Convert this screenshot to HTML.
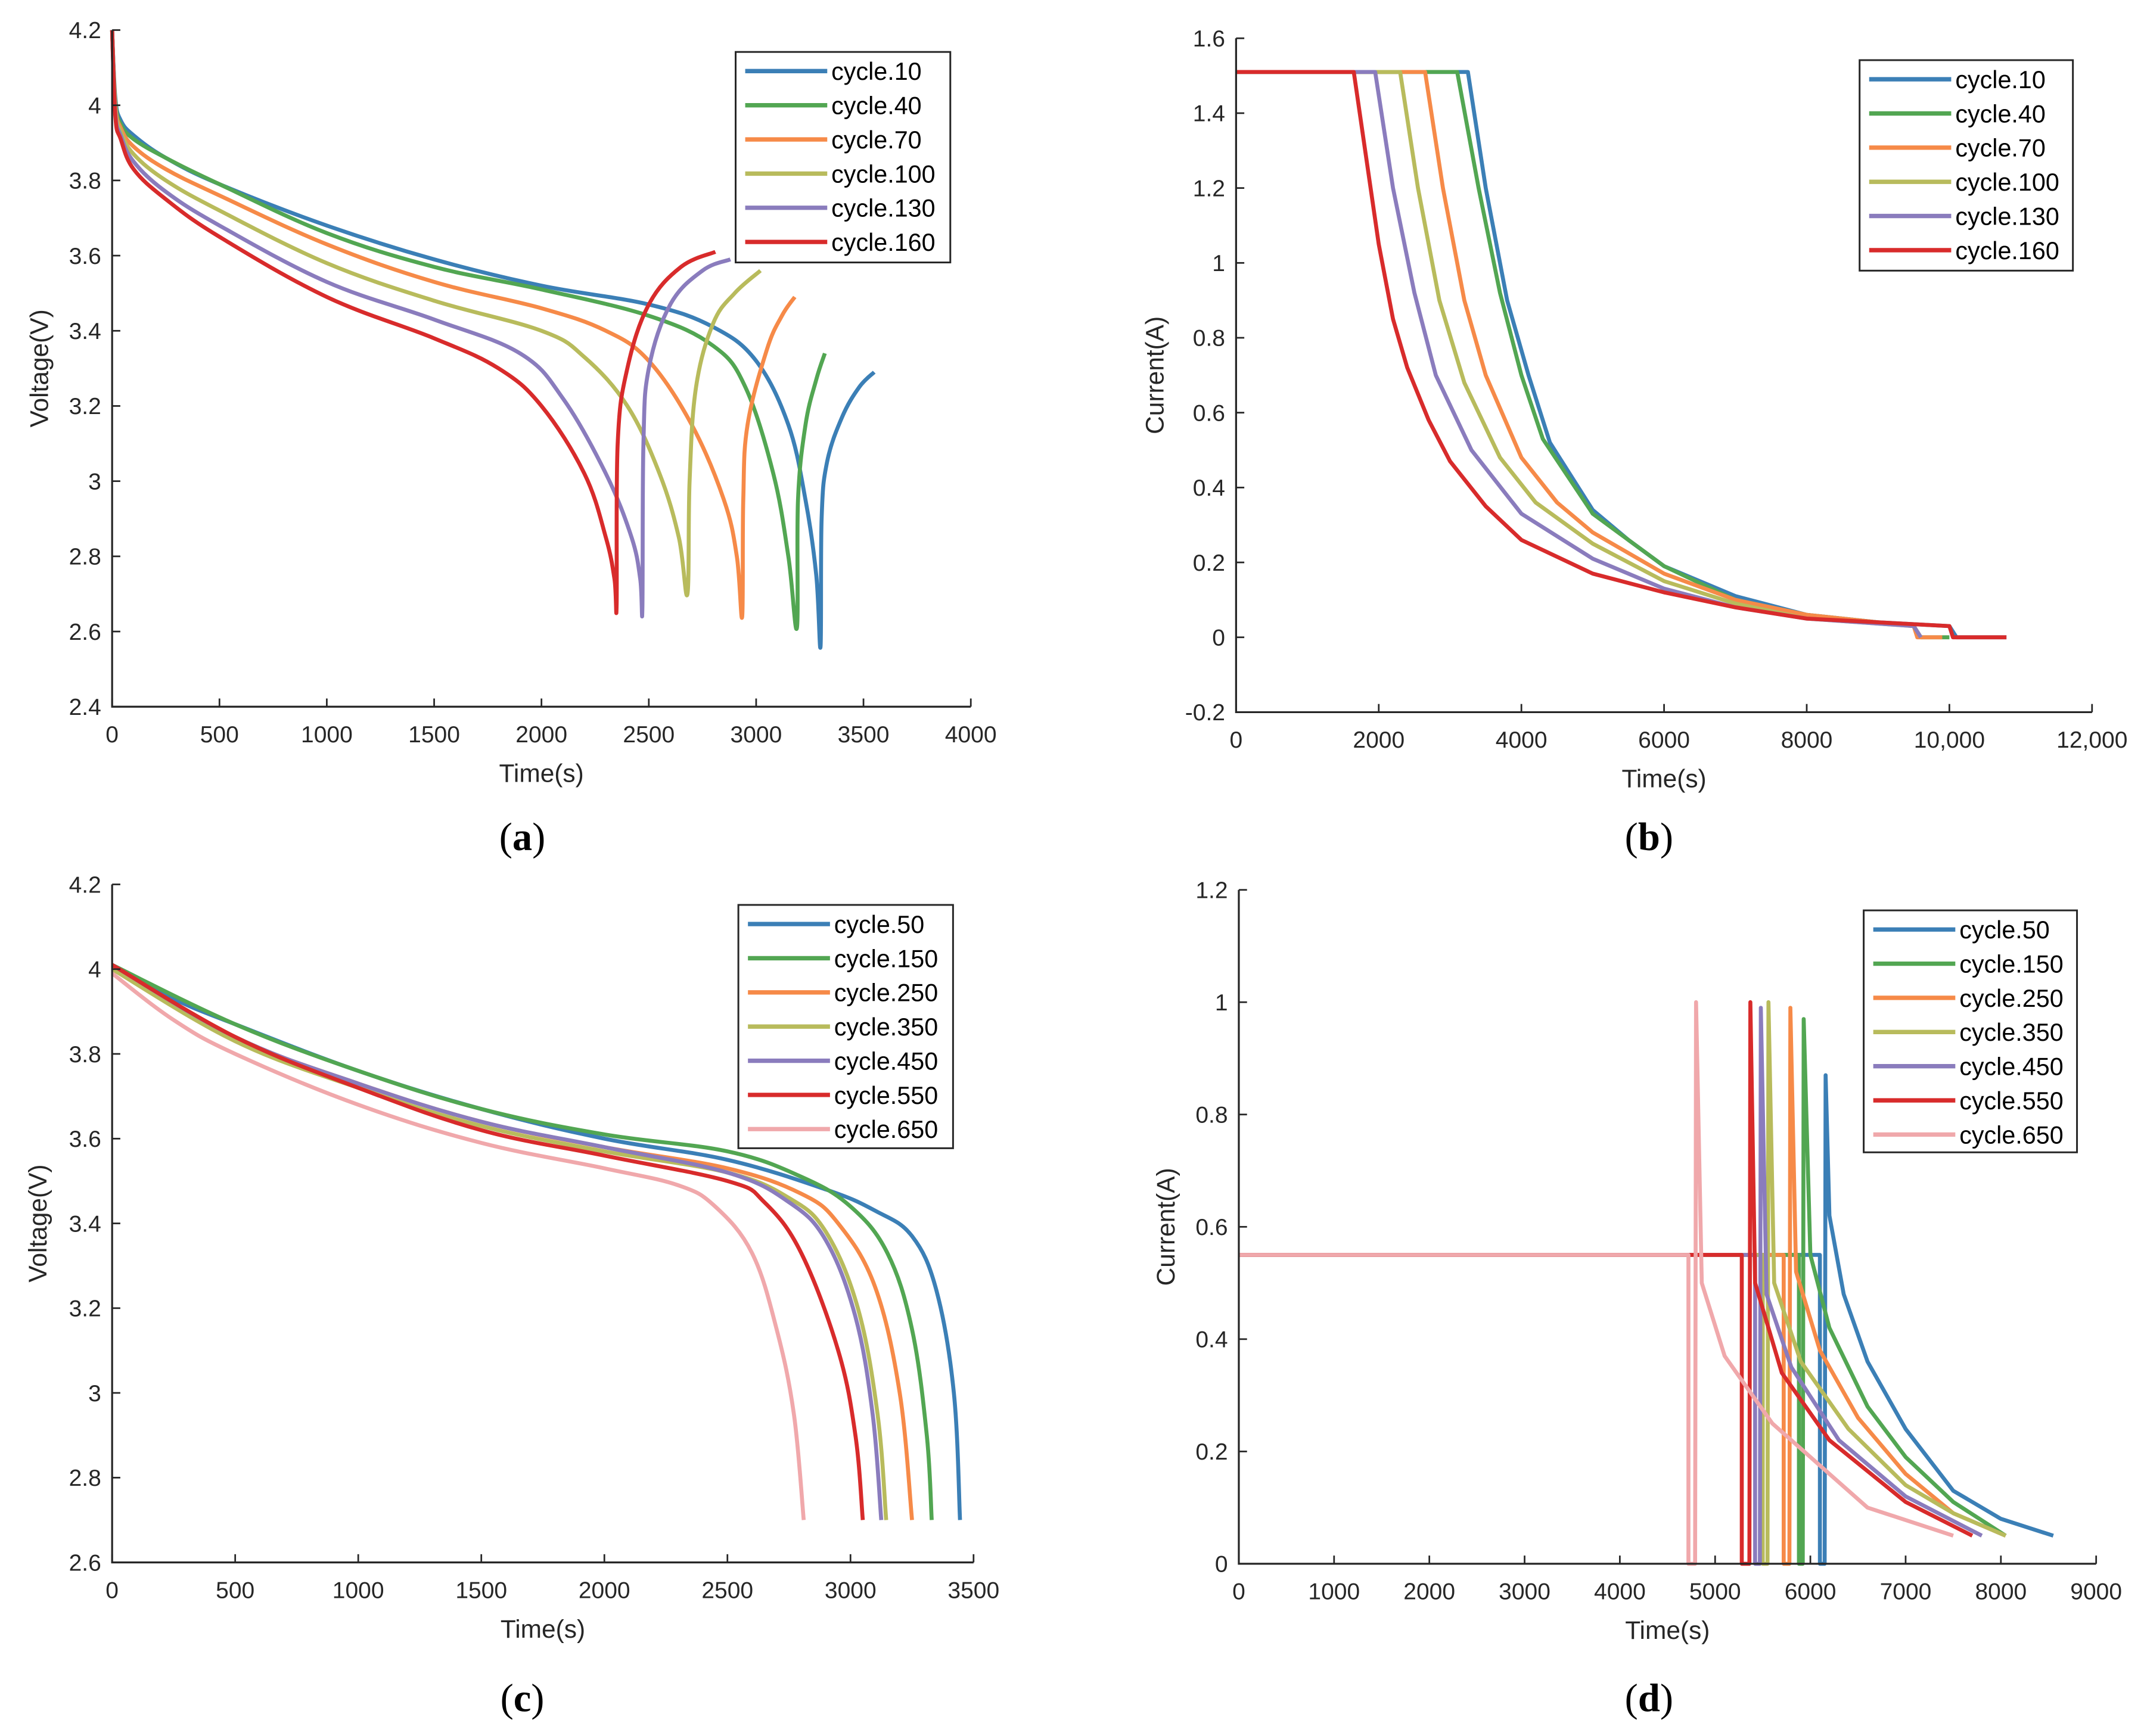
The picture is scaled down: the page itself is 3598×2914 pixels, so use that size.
<!DOCTYPE html>
<html><head><meta charset="utf-8">
<style>
html,body{margin:0;padding:0;background:#fff;}
svg{display:block;}
text{font-family:"Liberation Sans",Arial,sans-serif;fill:#262626;}
</style></head>
<body>
<svg id="fig" width="3598" height="2914" viewBox="0 0 1568 1270" preserveAspectRatio="none" xmlns="http://www.w3.org/2000/svg">
<rect width="1568" height="1270" fill="#fff"/>
</svg>
<script>
// ---- Panel (a) data: discharge voltage ----
const aNames = ["cycle.10","cycle.40","cycle.70","cycle.100","cycle.130","cycle.160"];
const aTimes = [
 [0,15,40,100,250,500,1000,1500,2000,2500,2800,3000,3150,3230,3280,3300,3305,3330,3400,3480,3550],
 [0,15,40,100,250,500,1000,1500,2000,2500,2800,2950,3080,3150,3190,3195,3230,3280,3320],
 [0,15,40,100,250,500,1000,1500,2000,2300,2500,2700,2850,2910,2935,2940,2960,3050,3120,3180],
 [0,15,40,100,250,500,1000,1500,2000,2200,2400,2550,2640,2680,2690,2720,2800,2900,3020],
 [0,15,40,100,250,500,1000,1500,1900,2100,2300,2420,2460,2470,2475,2500,2600,2750,2880],
 [0,15,40,100,250,500,1000,1500,1800,2000,2200,2300,2340,2350,2355,2400,2500,2650,2810]
];
const aVolts = [
 [4.2,4.02,3.96,3.92,3.86,3.79,3.68,3.59,3.52,3.47,3.41,3.32,3.15,2.95,2.75,2.56,2.9,3.05,3.17,3.25,3.29],
 [4.2,4.01,3.95,3.91,3.86,3.79,3.66,3.57,3.51,3.44,3.36,3.25,3.02,2.8,2.61,2.95,3.15,3.27,3.34],
 [4.2,4.0,3.94,3.89,3.83,3.76,3.63,3.53,3.46,3.40,3.32,3.15,2.95,2.8,2.64,2.95,3.15,3.35,3.44,3.49],
 [4.2,3.99,3.93,3.87,3.80,3.72,3.58,3.48,3.40,3.33,3.20,3.02,2.85,2.70,3.0,3.25,3.42,3.5,3.56],
 [4.2,3.98,3.92,3.85,3.77,3.68,3.53,3.43,3.34,3.22,3.02,2.85,2.74,2.66,3.1,3.3,3.47,3.56,3.59],
 [4.2,3.97,3.91,3.83,3.75,3.65,3.49,3.38,3.30,3.20,3.02,2.85,2.74,2.67,3.1,3.3,3.47,3.57,3.61]
];
const aXTicks = [0,500,1000,1500,2000,2500,3000,3500,4000];
const aXLabels = ["0","500","1000","1500","2000","2500","3000","3500","4000"];
const aYTicks = [2.4,2.6,2.8,3,3.2,3.4,3.6,3.8,4,4.2];
const aYLabels = ["2.4","2.6","2.8","3","3.2","3.4","3.6","3.8","4","4.2"];

// ---- Panel (b) data: charge current ----
const bNames = ["cycle.10","cycle.40","cycle.70","cycle.100","cycle.130","cycle.160"];
const bTimes = [
 [0,3250,3500,3800,4100,4400,5000,5500,6000,7000,8000,9000,10000,10100,10800],
 [0,3100,3400,3700,4000,4300,5000,6000,7000,8000,9500,9600,10000],
 [0,2650,2900,3200,3500,4000,4500,5000,6000,7000,8000,9500,9550,9900],
 [0,2300,2550,2850,3200,3700,4200,5000,6000,7000,8000,9500,9600],
 [0,1950,2200,2500,2800,3300,4000,5000,6000,7000,8000,9500,9600],
 [0,1650,2000,2200,2400,2700,3000,3500,4000,5000,6000,7000,8000,9000,10000,10050,10800]
];
const bCurr = [
 [1.51,1.51,1.2,0.9,0.7,0.52,0.34,0.26,0.19,0.11,0.06,0.04,0.03,0,0],
 [1.51,1.51,1.2,0.92,0.7,0.53,0.33,0.19,0.1,0.06,0.03,0,0],
 [1.51,1.51,1.2,0.9,0.7,0.48,0.36,0.28,0.17,0.1,0.06,0.03,0,0],
 [1.51,1.51,1.2,0.9,0.68,0.48,0.36,0.25,0.15,0.09,0.05,0.03,0],
 [1.51,1.51,1.2,0.92,0.7,0.5,0.33,0.21,0.13,0.08,0.05,0.03,0],
 [1.51,1.51,1.05,0.85,0.72,0.58,0.47,0.35,0.26,0.17,0.12,0.08,0.05,0.04,0.03,0,0]
];
const bXTicks = [0,2000,4000,6000,8000,10000,12000];
const bXLabels = ["0","2000","4000","6000","8000","10,000","12,000"];
const bYTicks = [-0.2,0,0.2,0.4,0.6,0.8,1,1.2,1.4,1.6];
const bYLabels = ["-0.2","0","0.2","0.4","0.6","0.8","1","1.2","1.4","1.6"];

// ---- Panel (c) data ----
const cNames = ["cycle.50","cycle.150","cycle.250","cycle.350","cycle.450","cycle.550","cycle.650"];
const cTimes = [
 [0,250,500,1000,1500,2000,2500,2900,3100,3250,3350,3420,3445],
 [0,500,1000,1500,2000,2500,2800,3000,3150,3250,3310,3330],
 [0,500,1000,1500,2000,2500,2800,2950,3100,3200,3250],
 [0,500,1000,1500,2000,2500,2750,2900,3030,3110,3145],
 [0,500,1000,1500,2000,2500,2750,2900,3020,3090,3125],
 [0,500,1000,1500,2000,2500,2650,2800,2950,3020,3050],
 [0,250,500,1000,1500,2000,2300,2450,2600,2700,2770,2810]
];
const cVolts = [
 [4.01,3.93,3.87,3.76,3.67,3.60,3.55,3.48,3.43,3.37,3.24,3.0,2.7],
 [4.01,3.87,3.76,3.67,3.61,3.57,3.51,3.44,3.33,3.15,2.9,2.7],
 [4.01,3.84,3.73,3.64,3.58,3.53,3.47,3.40,3.25,3.0,2.7],
 [4.0,3.83,3.72,3.63,3.57,3.52,3.46,3.38,3.2,2.95,2.7],
 [4.01,3.84,3.73,3.64,3.58,3.52,3.45,3.36,3.18,2.95,2.7],
 [4.01,3.84,3.72,3.62,3.56,3.50,3.45,3.33,3.1,2.9,2.7],
 [3.99,3.88,3.80,3.68,3.59,3.53,3.49,3.44,3.33,3.15,2.95,2.7]
];
const cXTicks = [0,500,1000,1500,2000,2500,3000,3500];
const cXLabels = ["0","500","1000","1500","2000","2500","3000","3500"];
const cYTicks = [2.6,2.8,3,3.2,3.4,3.6,3.8,4,4.2];
const cYLabels = ["2.6","2.8","3","3.2","3.4","3.6","3.8","4","4.2"];

// ---- Panel (d) data ----
const dNames = ["cycle.50","cycle.150","cycle.250","cycle.350","cycle.450","cycle.550","cycle.650"];
const dTimes = [
 [0,6100,6100,6150,6160,6200,6350,6600,7000,7500,8000,8550],
 [0,5880,5880,5920,5930,6000,6200,6600,7000,7500,8050],
 [0,5720,5720,5780,5790,5850,6100,6500,7000,7500,8050],
 [0,5500,5500,5550,5560,5620,5900,6400,7000,7500,8050],
 [0,5420,5420,5470,5480,5540,5800,6300,7000,7800],
 [0,5280,5280,5360,5370,5420,5700,6200,7000,7700],
 [0,4720,4720,4790,4800,4860,5100,5600,6000,6600,7500]
];
const dCurr = [
 [0.55,0.55,0,0,0.87,0.62,0.48,0.36,0.24,0.13,0.08,0.05],
 [0.55,0.55,0,0,0.97,0.55,0.42,0.28,0.19,0.11,0.05],
 [0.55,0.55,0,0,0.99,0.52,0.38,0.26,0.16,0.09,0.05],
 [0.55,0.55,0,0,1.0,0.5,0.36,0.24,0.14,0.09,0.05],
 [0.55,0.55,0,0,0.99,0.48,0.35,0.22,0.12,0.05],
 [0.55,0.55,0,0,1.0,0.5,0.34,0.22,0.11,0.05],
 [0.55,0.55,0,0,1.0,0.5,0.37,0.25,0.19,0.1,0.05]
];
const dXTicks = [0,1000,2000,3000,4000,5000,6000,7000,8000,9000];
const dXLabels = ["0","1000","2000","3000","4000","5000","6000","7000","8000","9000"];
const dYTicks = [0,0.2,0.4,0.6,0.8,1,1.2];
const dYLabels = ["0","0.2","0.4","0.6","0.8","1","1.2"];

const COLORS6 = ["#3b7fb6","#52a652","#f68a48","#b8bb5c","#8a7cbd","#d82b2b"];
const COLORS7 = ["#3b7fb6","#52a652","#f68a48","#b8bb5c","#8a7cbd","#d82b2b","#f0a8ab"];

const NS = "http://www.w3.org/2000/svg";
const fig = document.getElementById("fig");
function mk(tag, attrs, parent){ const e=document.createElementNS(NS,tag); for(const k in attrs) e.setAttribute(k,attrs[k]); (parent||fig).appendChild(e); return e; }

function pathFrom(pts, smooth){
  if(!smooth) return pts.map((p,j)=>(j?"L":"M")+p[0].toFixed(2)+" "+p[1].toFixed(2)).join(" ");
  let d="M"+pts[0][0].toFixed(2)+" "+pts[0][1].toFixed(2);
  for(let i=0;i<pts.length-1;i++){
    const p0=pts[i-1]||pts[i], p1=pts[i], p2=pts[i+1], p3=pts[i+2]||p2;
    const k=0.18;
    const c1=[p1[0]+(p2[0]-p0[0])*k, p1[1]+(p2[1]-p0[1])*k];
    const c2=[p2[0]-(p3[0]-p1[0])*k, p2[1]-(p3[1]-p1[1])*k];
    d+=` C${c1[0].toFixed(2)} ${c1[1].toFixed(2)} ${c2[0].toFixed(2)} ${c2[1].toFixed(2)} ${p2[0].toFixed(2)} ${p2[1].toFixed(2)}`;
  }
  return d;
}

function panel(cfg){
  const g = mk("g",{});
  
  
  const sx = v => cfg.x0 + (v-cfg.xmin)/(cfg.xmax-cfg.xmin)*(cfg.x1-cfg.x0);
  const sy = v => cfg.y0 - (v-cfg.ymin)/(cfg.ymax-cfg.ymin)*(cfg.y0-cfg.y1);
  cfg.times.forEach((ts,i)=>{
    const pts = ts.map((t,j)=>[sx(t),sy(cfg.vals[i][j])]);
    const p = mk("path",{d:pathFrom(pts,cfg.smooth),fill:"none",stroke:cfg.colors[i],"stroke-width":2.9,"stroke-linejoin":"round"},g);
    
    
  });
  const ax = mk("path",{d:`M${cfg.x0} ${cfg.y1} L${cfg.x0} ${cfg.y0} L${cfg.x1} ${cfg.y0}`,fill:"none",stroke:"#262626","stroke-width":1.4},g);
  
  
  cfg.xt.forEach((v,i)=>{
    const x=sx(v);
    mk("line",{x1:x,y1:cfg.y0,x2:x,y2:cfg.y0-6,stroke:"#262626","stroke-width":1.2},g);
    const t=mk("text",{x:x,y:cfg.y0+26,"text-anchor":"middle","font-size":17},g);
    t.textContent=cfg.xl[i];
    
    
  });
  cfg.yt.forEach((v,i)=>{
    const y=sy(v);
    mk("line",{x1:cfg.x0,y1:y,x2:cfg.x0+6,y2:y,stroke:"#262626","stroke-width":1.2},g);
    const t=mk("text",{x:cfg.x0-8,y:y+6,"text-anchor":"end","font-size":17},g);
    t.textContent=cfg.yl[i];
    
    
  });
  const xl=mk("text",{x:(cfg.x0+cfg.x1)/2,y:cfg.y0+55,"text-anchor":"middle","font-size":18.5},g);
  xl.textContent="Time(s)";
  
  
  const ymid=(cfg.y0+cfg.y1)/2;
  const yl=mk("text",{x:cfg.ylx,y:ymid,"text-anchor":"middle","font-size":18.5,transform:`rotate(-90 ${cfg.ylx} ${ymid})`},g);
  yl.textContent=cfg.ytitle;
  
  
  const L=cfg.leg;
  const lg=mk("g",{},g);
  
  
  mk("rect",{x:L.x,y:L.y,width:L.w,height:L.h,fill:"#fff",stroke:"#262626","stroke-width":1.3},lg);
  cfg.names.forEach((n,i)=>{
    const yy=L.y+14+i*25;
    mk("line",{x1:L.x+7,y1:yy,x2:L.x+67,y2:yy,stroke:cfg.colors[i],"stroke-width":3.2},lg);
    const t=mk("text",{x:L.x+70,y:yy+6.5,"font-size":18},lg);
    t.style.fill="#000";
    t.textContent=n;
    
    
  });
  const pl=mk("text",{x:cfg.lx,y:cfg.ly,"text-anchor":"middle","font-size":29},g);
  pl.style.fontFamily='"Liberation Serif",serif';
  pl.style.fill="#000";
  pl.innerHTML='(<tspan font-weight="bold">'+cfg.label+'</tspan>)';
  
  
}

panel({id:"panel-a",x0:82,x1:710,y0:517,y1:22,xmin:0,xmax:4000,ymin:2.4,ymax:4.2,smooth:true,
  times:aTimes,vals:aVolts,names:aNames,colors:COLORS6,xt:aXTicks,xl:aXLabels,yt:aYTicks,yl:aYLabels,
  ytitle:"Voltage(V)",ylx:35,leg:{x:538,y:38,w:157,h:154},label:"a",lx:382,ly:622});
panel({id:"panel-b",x0:904,x1:1530,y0:521,y1:28,xmin:0,xmax:12000,ymin:-0.2,ymax:1.6,smooth:false,
  times:bTimes,vals:bCurr,names:bNames,colors:COLORS6,xt:bXTicks,xl:bXLabels,yt:bYTicks,yl:bYLabels,
  ytitle:"Current(A)",ylx:851,leg:{x:1360,y:44,w:156,h:154},label:"b",lx:1206,ly:622});
panel({id:"panel-c",x0:82,x1:712,y0:1143,y1:647,xmin:0,xmax:3500,ymin:2.6,ymax:4.2,smooth:true,
  times:cTimes,vals:cVolts,names:cNames,colors:COLORS7,xt:cXTicks,xl:cXLabels,yt:cYTicks,yl:cYLabels,
  ytitle:"Voltage(V)",ylx:34,leg:{x:540,y:662,w:157,h:178},label:"c",lx:382,ly:1252});
panel({id:"panel-d",x0:906,x1:1533,y0:1144,y1:651,xmin:0,xmax:9000,ymin:0,ymax:1.2,smooth:false,
  times:dTimes,vals:dCurr,names:dNames,colors:COLORS7,xt:dXTicks,xl:dXLabels,yt:dYTicks,yl:dYLabels,
  ytitle:"Current(A)",ylx:859,leg:{x:1363,y:666,w:156,h:177},label:"d",lx:1206,ly:1252});
</script>
</body></html>
